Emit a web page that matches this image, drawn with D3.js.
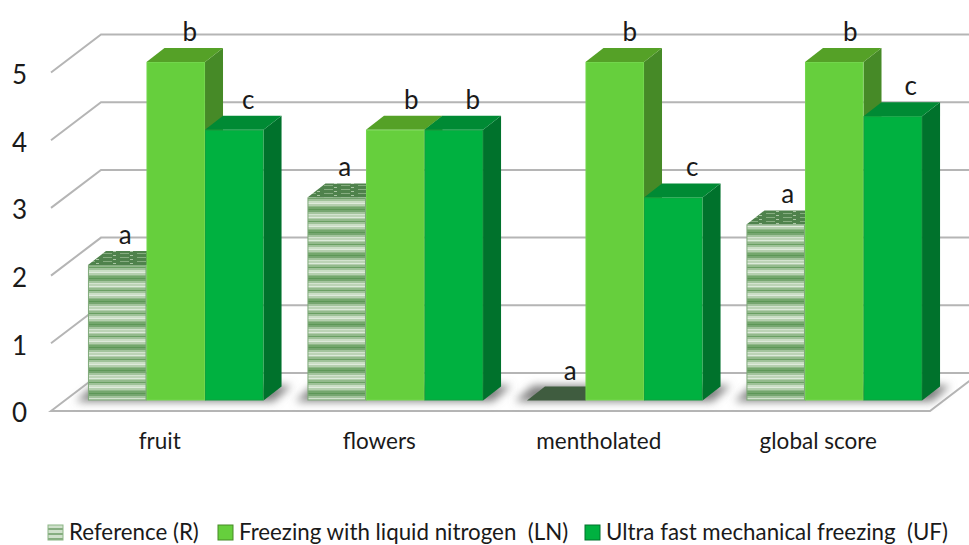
<!DOCTYPE html>
<html>
<head>
<meta charset="utf-8">
<script src="https://cdn.jsdelivr.net/npm/d3@7"></script>
<style>
body { margin: 0; background: #fff; }
text { font-family: Lato, "Open Sans", sans-serif; fill: #1a1a1a; }
.domain { display: none; }
</style>
</head>
<body>
<script>
var categories = ["fruit", "flowers", "mentholated", "global score"];
var seriesNames = ["Reference (R)", "Freezing with liquid nitrogen  (LN)", "Ultra fast mechanical freezing  (UF)"];
var referenceValues = [2, 3, 0, 2.6];
var nitrogenValues = [5, 4, 5, 5];
var ultraFastValues = [4, 4, 3, 4.2];
var referenceLetters = ["a", "a", "a", "a"];
var nitrogenLetters = ["b", "b", "b", "b"];
var ultraFastLetters = ["c", "b", "c", "c"];
var yTicks = [0, 1, 2, 3, 4, 5];

var width = 969, height = 545;
var depthX = 18, depthY = 14;   // offset of one bar's depth
var wallX = 50, wallY = 38;     // offset of the back wall from the floor front

var series = [
    {key: "R", name: seriesNames[0], values: referenceValues, letters: referenceLetters, front: "url(#stripes)", top: "url(#mottled)", side: "#4f7f4f", edge: "#7fa87a", letterDx: [8, 8, 14, 12]},
    {key: "LN", name: seriesNames[1], values: nitrogenValues, letters: nitrogenLetters, front: "#66cf3d", top: "#55a127", side: "#468a27", edge: "#72d64c", letterDx: [14, 16, 15, 16]},
    {key: "UF", name: seriesNames[2], values: ultraFastValues, letters: ultraFastLetters, front: "#00b140", top: "#008a34", side: "#00722c", edge: "#0fa23f", letterDx: [14, 19, 19, 18]}
];

var svg = d3.select("body").append("svg")
    .attr("width", width)
    .attr("height", height);

var defs = svg.append("defs");

// horizontal stripes of the reference bars, uneven like the scanned fill
var stripeRows = [
    [2, "#76a670"], [2, "#a3c49d"], [1, "#d3e3cf"], [2, "#bcd3b6"], [1, "#dceadA"], [1, "#b2cdac"],
    [2, "#93ba8c"], [1, "#6a9f63"], [2, "#9fc299"], [2, "#cbdec6"], [1, "#dfebdc"], [2, "#b5cfaf"],
    [1, "#90b989"], [2, "#74a76d"], [1, "#5d9757"]
];
var stripeHeight = d3.sum(stripeRows, function(r) { return r[0]; });
var stripes = defs.append("pattern")
    .attr("id", "stripes")
    .attr("patternUnits", "userSpaceOnUse")
    .attr("width", 60)
    .attr("height", stripeHeight)
    .attr("y", 3);
var rowY = 0;
stripeRows.forEach(function(r) {
    stripes.append("rect")
        .attr("y", rowY)
        .attr("width", 60)
        .attr("height", r[0])
        .attr("fill", r[1]);
    rowY += r[0];
});

var legendStripes = defs.append("pattern")
    .attr("id", "legendStripes")
    .attr("patternUnits", "userSpaceOnUse")
    .attr("width", 15)
    .attr("height", 5);
legendStripes.append("rect").attr("width", 15).attr("height", 5).attr("fill", "#cfe0cb");
legendStripes.append("rect").attr("y", 3).attr("width", 15).attr("height", 2).attr("fill", "#86ad80");

var mottled = defs.append("pattern")
    .attr("id", "mottled")
    .attr("patternUnits", "userSpaceOnUse")
    .attr("width", 17)
    .attr("height", 4);
mottled.append("rect").attr("width", 17).attr("height", 4).attr("fill", "#4f824c");
mottled.append("rect").attr("y", 1).attr("x", 1).attr("width", 9).attr("height", 1).attr("fill", "#86ad80");
mottled.append("rect").attr("x", 11).attr("y", 3).attr("width", 3).attr("height", 1).attr("fill", "#a9c6a3");

defs.append("filter")
    .attr("id", "blurShadow")
    .attr("x", "-20%").attr("y", "-100%").attr("width", "140%").attr("height", "300%")
    .append("feGaussianBlur").attr("stdDeviation", 4);

var yScale = d3.scaleLinear().domain([0, 5]).range([400.5, 62]);
var xScale = d3.scaleBand().domain(categories).range([66, 944]).paddingInner(0.2).paddingOuter(0.1);
var xInner = d3.scaleBand().domain(series.map(function(s) { return s.key; })).range([0, xScale.bandwidth()]);

var line = d3.line();

// floor and back wall gridlines
var floorFrontY = yScale(0) + 10.5;
var floorLeft = 51, floorRight = 930;
svg.append("path")
    .attr("d", line([[floorLeft, floorFrontY], [floorLeft + wallX, floorFrontY - wallY], [floorRight + wallX, floorFrontY - wallY], [floorRight, floorFrontY]]) + "Z")
    .attr("fill", "#fff")
    .attr("stroke", "#b5b5b5")
    .attr("stroke-width", 2);

svg.selectAll(".gridline")
    .data(yTicks.slice(1))
    .enter().append("path")
    .attr("class", "gridline")
    .attr("fill", "none")
    .attr("stroke", "#b5b5b5")
    .attr("stroke-width", 2)
    .attr("d", function(d) {
        var y = yScale(d) + 10.5;
        return line([[floorLeft, y], [floorLeft + wallX, y - wallY], [width + 2, y - wallY]]);
    });

// soft shadows on the floor
svg.selectAll(".shadow")
    .data(categories)
    .enter().append("path")
    .attr("class", "shadow")
    .attr("fill", "#808080")
    .attr("filter", "url(#blurShadow)")
    .attr("d", function(d) {
        var x0 = xScale(d) - 12, x1 = xScale(d) + xScale.bandwidth() + 10, y0 = yScale(0) + 1;
        return line([[x0, y0], [x0 + depthX, y0 - depthY - 2], [x1 + depthX, y0 - depthY - 2], [x1, y0]]) + "Z";
    });

// bars, drawn left to right so that each covers the side of the one before
categories.forEach(function(cat, c) {
    series.forEach(function(s) {
        var x0 = xScale(cat) + xInner(s.key),
            x1 = x0 + xInner.bandwidth(),
            yTop = yScale(s.values[c]),
            yBase = yScale(0);
        var g = svg.append("g").attr("class", "bar");
        if (s.values[c] > 0) {
            g.append("path")
                .attr("d", line([[x1, yTop], [x1 + depthX, yTop - depthY], [x1 + depthX, yBase - depthY], [x1, yBase]]) + "Z")
                .attr("fill", s.side);
        }
        g.append("path")
            .attr("d", line([[x0, yTop], [x0 + depthX, yTop - depthY], [x1 + depthX, yTop - depthY], [x1, yTop]]) + "Z")
            .attr("fill", s.values[c] > 0 ? s.top : "#3f5c3f");
        if (s.values[c] > 0) {
            g.append("rect")
                .attr("x", x0 + 0.5)
                .attr("y", yTop + 0.5)
                .attr("width", x1 - x0 - 1)
                .attr("height", yBase - yTop - 1)
                .attr("fill", s.front)
                .attr("stroke", s.edge);
        }
    });
});

// significance letters
categories.forEach(function(cat, c) {
    series.forEach(function(s) {
        svg.append("text")
            .attr("x", xScale(cat) + xInner(s.key) + xInner.bandwidth() / 2 + s.letterDx[c])
            .attr("y", yScale(s.values[c]) - 21)
            .attr("text-anchor", "middle")
            .style("font-size", "26px")
            .text(s.letters[c]);
    });
});

// y axis
var yAxis = d3.axisLeft(yScale).tickValues(yTicks).tickSize(0).tickFormat(d3.format("d"));
var yG = svg.append("g")
    .attr("transform", "translate(30,13)")
    .call(yAxis);
yG.selectAll("text").style("font-size", "26px").attr("fill", null);

// x labels, sitting left of the group centres as in the source
var xAxis = d3.axisBottom(xScale).tickSize(0);
var xG = svg.append("g")
    .attr("transform", "translate(-16,430)")
    .call(xAxis);
xG.selectAll("text").style("font-size", "22.5px").attr("fill", null);

// legend
var legendX = [48, 218, 585];
var legend = svg.selectAll(".legend")
    .data(series)
    .enter().append("g")
    .attr("class", "legend")
    .attr("transform", function(d, i) { return "translate(" + legendX[i] + ",525)"; });
legend.append("rect")
    .attr("width", 15)
    .attr("height", 15)
    .attr("fill", function(d) { return d.key === "R" ? "url(#legendStripes)" : d.front; })
    .attr("stroke", function(d) { return d.key === "R" ? "#8cb585" : d.side; });
legend.append("text")
    .attr("x", 21)
    .attr("y", 15)
    .style("font-size", "22.3px")
    .style("white-space", "pre")
    .attr("xml:space", "preserve")
    .text(function(d) { return d.name; });
</script>
</body>
</html>
